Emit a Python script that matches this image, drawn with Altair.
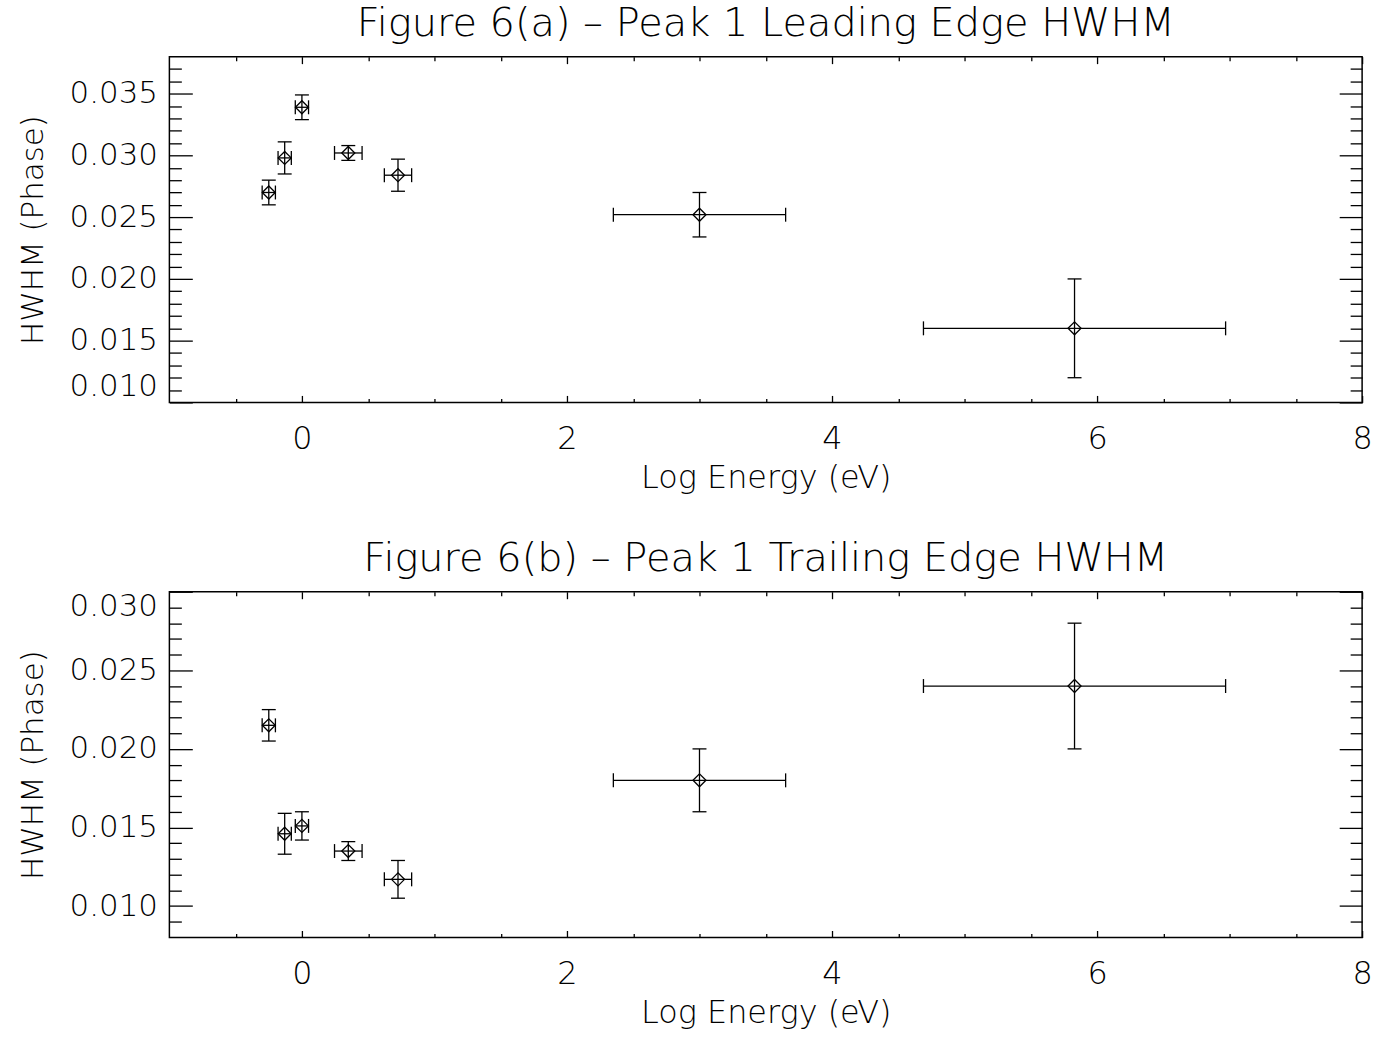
import altair as alt
import pandas as pd

# ---- data ----
log_energy = [-0.25, -0.13, 0.0, 0.35, 0.725, 3.0, 5.83]
log_energy_err = [0.05, 0.05, 0.05, 0.104, 0.103, 0.65, 1.14]

lead_hwhm = [0.0270, 0.0298, 0.0339, 0.0302, 0.0284, 0.0252, 0.0160]
lead_err = [0.0010, 0.0013, 0.0010, 0.0006, 0.0013, 0.0018, 0.0040]

trail_hwhm = [0.0215, 0.0146, 0.0151, 0.0135, 0.0117, 0.0180, 0.0240]
trail_err = [0.0010, 0.0013, 0.0009, 0.0006, 0.0012, 0.0020, 0.0040]

x_major = [0, 2, 4, 6, 8]
x_minor = [-0.5, 0.5, 1, 1.5, 2.5, 3, 3.5, 4.5, 5, 5.5, 6.5, 7, 7.5]

ya_labels = [0.010, 0.015, 0.020, 0.025, 0.030, 0.035]
ya_minor = [0.011, 0.012, 0.013, 0.014, 0.016, 0.017, 0.018, 0.019,
            0.021, 0.022, 0.023, 0.024, 0.026, 0.027, 0.028, 0.029,
            0.031, 0.032, 0.033, 0.034, 0.036, 0.037]
yb_labels = [0.010, 0.015, 0.020, 0.025, 0.030]
yb_minor = [0.009, 0.011, 0.012, 0.013, 0.014, 0.016, 0.017, 0.018, 0.019,
            0.021, 0.022, 0.023, 0.024, 0.026, 0.027, 0.028, 0.029]

FONT = "DejaVu Sans"
FW = 200
INK = "#000000"
LW = 1.3


def make_df(y, yerr):
    return pd.DataFrame({
        "x": log_energy,
        "xlo": [a - e for a, e in zip(log_energy, log_energy_err)],
        "xhi": [a + e for a, e in zip(log_energy, log_energy_err)],
        "y": y,
        "ylo": [a - e for a, e in zip(y, yerr)],
        "yhi": [a + e for a, e in zip(y, yerr)],
    })


def tick_axis(orient, values, size):
    return alt.Axis(orient=orient, values=values, tickSize=size, offset=-size,
                    labels=False, domain=False, grid=False, title=None,
                    ticks=True, tickColor=INK, tickWidth=LW)


def panel(df, title, ydomain, ylabels, yminor):
    xs = alt.Scale(domain=[-1, 8], nice=False, zero=False)
    ys = alt.Scale(domain=ydomain, nice=False, zero=False)
    base = alt.Chart(df)

    main_x = alt.Axis(orient="bottom", values=x_major, ticks=False, domain=False,
                      grid=False, labelFlush=False, labelPadding=21,
                      labelFontSize=32, labelFont=FONT, labelFontWeight=FW,
                      labelColor=INK, title="Log Energy (eV)", titleFontSize=32,
                      titleFont=FONT, titleFontWeight=FW, titleColor=INK,
                      titlePadding=8)
    main_y = alt.Axis(orient="left", values=ylabels, format=".3f", ticks=False,
                      domain=False, grid=False, labelFlush=True, labelPadding=12,
                      labelFontSize=31, labelFont=FONT, labelFontWeight=FW,
                      labelColor=INK, title="HWHM (Phase)", titleFontSize=31,
                      titleFont=FONT, titleFontWeight=FW, titleColor=INK,
                      titlePadding=20)

    hbar = base.mark_rule(color=INK, strokeWidth=LW).encode(
        x=alt.X("xlo:Q", scale=xs, axis=main_x), x2="xhi:Q",
        y=alt.Y("y:Q", scale=ys, axis=main_y))
    vbar = base.mark_rule(color=INK, strokeWidth=LW).encode(
        x=alt.X("x:Q", scale=xs, axis=None),
        y=alt.Y("ylo:Q", scale=ys, axis=None), y2="yhi:Q")
    hcap_lo = base.mark_tick(orient="vertical", size=14, thickness=LW, color=INK, opacity=1).encode(
        x=alt.X("xlo:Q", scale=xs, axis=None), y=alt.Y("y:Q", scale=ys, axis=None))
    hcap_hi = base.mark_tick(orient="vertical", size=14, thickness=LW, color=INK, opacity=1).encode(
        x=alt.X("xhi:Q", scale=xs, axis=None), y=alt.Y("y:Q", scale=ys, axis=None))
    vcap_lo = base.mark_tick(orient="horizontal", size=14, thickness=LW, color=INK, opacity=1).encode(
        x=alt.X("x:Q", scale=xs, axis=None), y=alt.Y("ylo:Q", scale=ys, axis=None))
    vcap_hi = base.mark_tick(orient="horizontal", size=14, thickness=LW, color=INK, opacity=1).encode(
        x=alt.X("x:Q", scale=xs, axis=None), y=alt.Y("yhi:Q", scale=ys, axis=None))
    pts = base.mark_point(shape="diamond", size=170, filled=False, color=INK,
                          strokeWidth=LW, opacity=1).encode(
        x=alt.X("x:Q", scale=xs, axis=None), y=alt.Y("y:Q", scale=ys, axis=None))

    def ghost(xaxis, yaxis):
        return base.mark_point(opacity=0).encode(
            x=alt.X("x:Q", scale=xs, axis=xaxis), y=alt.Y("y:Q", scale=ys, axis=yaxis))

    g1 = ghost(tick_axis("bottom", x_major, 7), tick_axis("left", ylabels, 23))
    g2 = ghost(tick_axis("bottom", x_minor, 4), tick_axis("left", yminor, 12))
    g3 = ghost(tick_axis("top", x_major, 7), tick_axis("right", ylabels, 23))
    g4 = ghost(tick_axis("top", x_minor, 4), tick_axis("right", yminor, 12))

    return alt.layer(hbar, vbar, hcap_lo, hcap_hi, vcap_lo, vcap_hi, pts,
                     g1, g2, g3, g4).resolve_axis(x="independent", y="independent").properties(
        width=1197, height=347,
        title=alt.Title(title, fontSize=40, font=FONT, fontWeight=FW, color=INK,
                        anchor="middle", frame="group", offset=12))


pa = panel(make_df(lead_hwhm, lead_err), "Figure 6(a) \u2013 Peak 1 Leading Edge HWHM",
           [0.010, 0.038], ya_labels, ya_minor)
pb = panel(make_df(trail_hwhm, trail_err), "Figure 6(b) \u2013 Peak 1 Trailing Edge HWHM",
           [0.008, 0.030], yb_labels, yb_minor)

chart = alt.vconcat(pa, pb, spacing=44).configure_view(
    stroke=INK, strokeWidth=1.5).properties(
    padding={"left": 16, "top": 1, "right": 20, "bottom": 5},
    background="white")

chart.save("out.html", embed_options={"renderer": "svg", "actions": False})
